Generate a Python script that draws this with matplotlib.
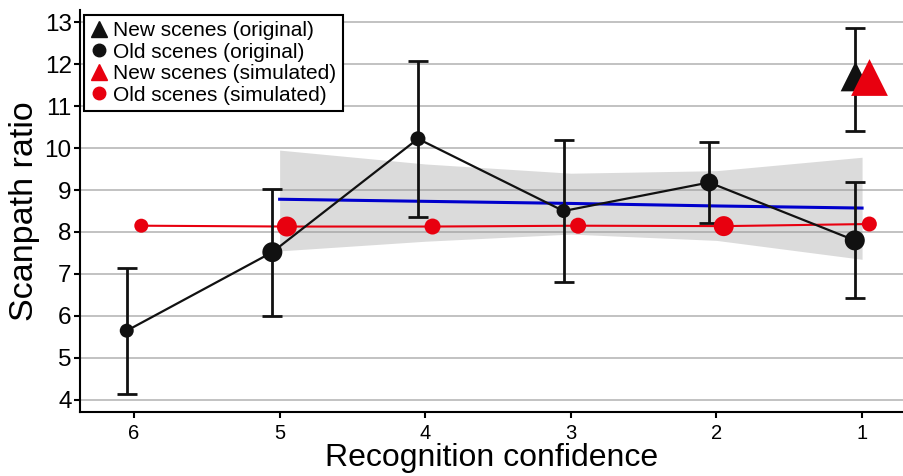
import matplotlib
matplotlib.use("Agg")
import matplotlib.pyplot as plt
from matplotlib.lines import Line2D

plt.rcParams['font.family'] = ['Liberation Sans', 'DejaVu Sans']

# recognition confidence levels (6 = lowest ... 1 = highest)
confidence = [6, 5, 4, 3, 2, 1]

# old scenes, original data
old_orig = [5.65, 7.52, 10.22, 8.50, 9.18, 7.80]
old_orig_lo = [4.14, 6.00, 8.35, 6.80, 8.22, 6.42]
old_orig_hi = [7.15, 9.03, 12.07, 10.20, 10.14, 9.18]
old_orig_d = [14, 20, 15, 14, 18, 20]  # marker diameter, px

# old scenes, simulated
old_sim = [8.15, 8.13, 8.13, 8.15, 8.14, 8.19]
old_sim_d = [14, 20, 16, 16, 20, 15]

# new scenes (only at confidence 1)
new_x = [1]
new_orig = [11.72]
new_orig_lo = [10.40]
new_orig_hi = [12.85]
new_sim = [11.68]

# linear fit over confidence 5..1 with confidence band
fit_x = [5, 4, 3, 2, 1]
fit_y = [8.78, 8.73, 8.68, 8.62, 8.57]
band_hi = [9.95, 9.62, 9.40, 9.46, 9.78]
band_lo = [7.55, 7.78, 7.95, 7.80, 7.35]

red = '#e8000f'
dodge = 0.05
px = 0.72  # points per pixel at dpi 100

fig = plt.figure(figsize=(9.04, 4.76), dpi=100)
ax = fig.add_axes([80 / 904, 64 / 476, 824 / 904, 402 / 476])

ax.fill_between(fit_x, band_lo, band_hi, color='#999999', alpha=0.35, lw=0, zorder=2)
ax.plot(fit_x, fit_y, color='#0000cc', lw=2.2, zorder=3)

xo = [c + dodge for c in confidence]
xs = [c - dodge for c in confidence]

ax.plot(xs, old_sim, color=red, lw=1.5, zorder=4)
ax.plot(xo, old_orig, color='#111111', lw=1.6, zorder=4)

yerr = [[m - l for m, l in zip(old_orig, old_orig_lo)],
        [h - m for m, h in zip(old_orig, old_orig_hi)]]
ax.errorbar(xo, old_orig, yerr=yerr, fmt='none', ecolor='#111111',
            elinewidth=2, capsize=7.5, capthick=2, zorder=5)
ax.errorbar([x + dodge for x in new_x], new_orig,
            yerr=[[new_orig[0] - new_orig_lo[0]], [new_orig_hi[0] - new_orig[0]]],
            fmt='none', ecolor='#111111', elinewidth=2, capsize=7.5, capthick=2, zorder=5)

ax.scatter(xo, old_orig, s=[(d * px) ** 2 for d in old_orig_d], color='#111111',
           lw=0, zorder=6)
ax.scatter([x + dodge for x in new_x], new_orig, s=(42 * px) ** 2 * 0.5, marker='^',
           color='#111111', lw=0, zorder=6)
ax.scatter(xs, old_sim, s=[(d * px) ** 2 for d in old_sim_d], color=red, lw=0, zorder=7)
ax.scatter([x - dodge for x in new_x], new_sim, s=(52 * px) ** 2 * 0.5, marker='^',
           color=red, lw=0, zorder=7)

ax.set_xlim(6.371, 0.712)
ax.set_ylim(3.714, 13.286)
ax.set_xticks(confidence)
ax.set_yticks(range(4, 14))
ax.grid(axis='y', color='#bdbdbd', lw=1.3)
ax.set_axisbelow(True)
for s in ['top', 'right']:
    ax.spines[s].set_visible(False)
for s in ['left', 'bottom']:
    ax.spines[s].set_linewidth(1.5)
ax.tick_params(axis='y', labelsize=17.5, length=4, width=1.5, pad=2)
ax.tick_params(axis='x', labelsize=14.5, length=4, width=1.5, pad=4.5)
ax.set_xlabel('Recognition confidence', fontsize=23, labelpad=0)
ax.set_ylabel('Scanpath ratio', fontsize=24.5, labelpad=3)

handles = [
    Line2D([], [], ls='none', marker='^', color='#111111', ms=11),
    Line2D([], [], ls='none', marker='o', color='#111111', ms=9),
    Line2D([], [], ls='none', marker='^', color=red, ms=11),
    Line2D([], [], ls='none', marker='o', color=red, ms=9),
]
labels = ['New scenes (original)', 'Old scenes (original)',
          'New scenes (simulated)', 'Old scenes (simulated)']
leg = ax.legend(handles, labels, loc='upper left', bbox_to_anchor=(4 / 824, 1 - 5 / 402),
                borderaxespad=0, fontsize=15, frameon=True, fancybox=False,
                labelspacing=0.12, handlelength=0.8, handletextpad=0.3,
                borderpad=0.3, framealpha=1)
leg.get_frame().set_edgecolor('black')
leg.get_frame().set_linewidth(1.5)
leg.set_zorder(10)

fig.savefig('out.png', dpi=100)
